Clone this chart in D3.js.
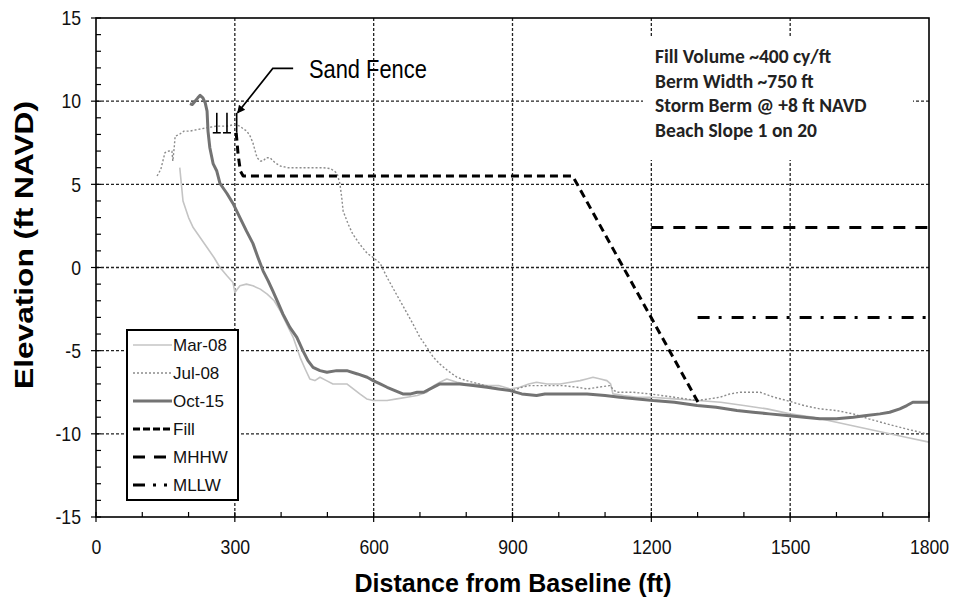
<!DOCTYPE html>
<html><head><meta charset="utf-8">
<script src="https://d3js.org/d3.v7.min.js"></script>
<style>body{margin:0;background:#fff}svg{display:block}</style>
</head><body>
<svg id="c" width="957" height="600"></svg>
<script>
// ---- data ----
const mar08X = [181,188,200,210,225,240,255,268,283,296,300,311,325,339,355,370,385,398,412,426,441,452,462,473,484,498,512,527,542,556,570,585,599,614,629,650,672,694,715,730,743,758,780,800,820,845,870,895,916,935,952,975,1003,1025,1046,1060,1074,1090,1104,1112,1117,1140,1170,1200,1250,1300,1350,1400,1450,1500,1550,1600,1650,1700,1750,1800];
const mar08Y = [6.0,4.0,3.0,2.4,1.8,1.2,0.6,0.0,-0.5,-0.9,-1.5,-1.1,-1.0,-1.1,-1.3,-1.6,-2.0,-2.6,-3.4,-4.2,-5.4,-6.1,-6.7,-6.8,-6.6,-6.8,-7.0,-7.0,-7.0,-7.3,-7.6,-7.9,-8.0,-8.0,-8.0,-7.9,-7.8,-7.7,-7.5,-7.1,-6.9,-6.7,-6.9,-7.0,-7.0,-7.1,-7.1,-7.3,-7.2,-7.0,-6.9,-7.0,-7.0,-6.9,-6.8,-6.7,-6.6,-6.7,-6.8,-7.0,-7.6,-7.7,-7.8,-7.8,-7.9,-8.0,-8.1,-8.3,-8.5,-8.8,-9.0,-9.3,-9.6,-9.9,-10.2,-10.5];

const jul08X = [132,140,149,157,164,166,169,171,180,190,203,220,240,260,283,300,311,320,326,333,339,348,355,361,368,376,387,398,415,434,450,469,490,506,515,521,527,531,534,545,555,570,586,599,614,629,643,657,671,685,700,715,729,743,760,780,800,815,840,870,901,920,938,970,1010,1040,1061,1085,1110,1120,1126,1160,1197,1250,1299,1325,1348,1370,1392,1415,1435,1465,1493,1530,1564,1600,1636,1670,1709,1750,1795];
const jul08Y = [5.5,5.9,6.9,7.0,7.0,6.4,7.2,7.9,8.0,8.2,8.2,8.3,8.4,8.5,8.5,8.6,8.5,8.3,8.2,7.9,7.5,6.6,6.4,6.4,6.6,6.6,6.3,6.1,6.0,6.0,6.0,6.0,6.0,5.95,5.8,5.65,5.05,4.2,3.4,2.6,2.0,1.4,0.85,0.6,0.25,-0.6,-1.3,-2.0,-2.7,-3.4,-4.2,-4.8,-5.4,-5.8,-6.2,-6.6,-6.8,-6.9,-7.1,-7.3,-7.4,-7.2,-7.1,-7.1,-7.1,-7.2,-7.3,-7.2,-7.1,-7.4,-7.5,-7.5,-7.6,-7.8,-8.0,-7.9,-7.8,-7.6,-7.5,-7.5,-7.5,-7.8,-8.0,-8.3,-8.5,-8.6,-8.8,-9.1,-9.4,-9.7,-10.0];

const oct15X = [203,208,214,220,225,231,236,240,242,246,253,261,268,283,296,311,325,339,350,361,372,382,393,404,419,434,447,458,469,484,499,520,542,565,586,599,614,629,646,663,680,694,708,722,743,760,786,815,845,870,895,920,952,970,988,1025,1061,1100,1132,1170,1204,1250,1299,1340,1385,1420,1455,1493,1530,1564,1600,1636,1665,1694,1715,1737,1752,1765,1780,1800];
const oct15Y = [9.85,9.8,10.0,10.2,10.35,10.2,9.9,9.4,8.2,7.2,6.25,5.8,5.05,4.45,3.85,3.0,2.2,1.45,0.6,-0.2,-0.8,-1.4,-2.1,-2.8,-3.6,-4.2,-5.0,-5.6,-6.0,-6.2,-6.3,-6.2,-6.2,-6.4,-6.6,-6.8,-7.0,-7.2,-7.4,-7.6,-7.6,-7.5,-7.5,-7.3,-7.0,-7.0,-7.0,-7.1,-7.2,-7.3,-7.4,-7.6,-7.7,-7.6,-7.6,-7.6,-7.6,-7.7,-7.8,-7.9,-8.0,-8.1,-8.3,-8.4,-8.6,-8.7,-8.8,-8.9,-9.0,-9.1,-9.1,-9.0,-8.9,-8.8,-8.7,-8.5,-8.3,-8.1,-8.1,-8.1];

const fillX = [303,307,312,318,1030,1305];
const fillY = [8.1,6.8,5.8,5.5,5.5,-8.3];
const mhhwX = [1200,1800], mhhwY = [2.4,2.4];
const mllwX = [1300,1800], mllwY = [-3.0,-3.0];

const fenceX = [261,283,304];
const fenceTop = 9.3, fenceBottom = 8.1;

const xTicks = [0,300,600,900,1200,1500,1800];
const yTicks = [-15,-10,-5,0,5,10,15];
const notes = ["Fill Volume ~400 cy/ft","Berm Width ~750 ft","Storm Berm @ +8 ft NAVD","Beach Slope 1 on 20"];
const legendNames = ["Mar-08","Jul-08","Oct-15","Fill","MHHW","MLLW"];

// ---- layout ----
const svg = d3.select("#c");
const L=96, T=18, R=929, B=517;
const x = d3.scaleLinear().domain([0,1800]).range([L,R]);
const y = d3.scaleLinear().domain([-15,15]).range([B,T]);
const baseFont = "'Liberation Sans',Arial,sans-serif";
// emulate a narrow face by compressing glyphs
function narrow(sel, k){ sel.each(function(){ const w=this.getComputedTextLength(); d3.select(this).attr("textLength",w*k).attr("lengthAdjust","spacingAndGlyphs"); }); }

// gridlines
const grid = svg.append("g").attr("stroke","#222").attr("stroke-width",1.3).attr("stroke-dasharray","3,2");
xTicks.slice(1,-1).forEach(v=>grid.append("line").attr("x1",x(v)).attr("x2",x(v)).attr("y1",T).attr("y2",B));
yTicks.slice(1,-1).forEach(v=>grid.append("line").attr("y1",y(v)).attr("y2",y(v)).attr("x1",L).attr("x2",R));

// white box behind notes
svg.append("rect").attr("x",643).attr("y",38).attr("width",270).attr("height",122).attr("fill","#fff");

const line = d3.line().x(d=>x(d[0])).y(d=>y(d[1]));
const zip = (a,b)=>a.map((v,i)=>[v,b[i]]);

const series = [
  {name:"Mar-08", d:zip(mar08X,mar08Y), stroke:"#c4c4c4", w:1.6, dash:null, ldash:null},
  {name:"Jul-08", d:zip(jul08X,jul08Y), stroke:"#8c8c8c", w:1.4, dash:"2,2", ldash:"2,2"},
  {name:"Oct-15", d:zip(oct15X,oct15Y), stroke:"#737373", w:3, dash:null, ldash:null},
  {name:"Fill", d:zip(fillX,fillY), stroke:"#000", w:3, dash:"8,5", ldash:"7,3"},
  {name:"MHHW", d:zip(mhhwX,mhhwY), stroke:"#000", w:3, dash:"12,10", ldash:"12,9"},
  {name:"MLLW", d:zip(mllwX,mllwY), stroke:"#000", w:3, dash:"12,9,3,10", ldash:"12,8,3,8,3,8"}
];
series.forEach(s=>{
  svg.append("path").attr("d",line(s.d)).attr("fill","none").attr("stroke",s.stroke)
    .attr("stroke-width",s.w).attr("stroke-dasharray",s.dash).attr("stroke-linejoin","round");
});

// sand fence markers
fenceX.forEach((fx,i)=>{
  svg.append("line").attr("x1",x(fx)).attr("x2",x(fx)).attr("y1",y(fenceTop)).attr("y2",y(fenceBottom)).attr("stroke","#000").attr("stroke-width",1.6);
  if(i<2) svg.append("line").attr("x1",x(fx)-4).attr("x2",x(fx)+4).attr("y1",y(fenceBottom)).attr("y2",y(fenceBottom)).attr("stroke","#000").attr("stroke-width",1.6);
});

// Sand Fence annotation
const annot = [[426,11.97],[382,11.97],[306,9.3]];
svg.append("defs").append("marker").attr("id","ah").attr("viewBox","0 0 10 10").attr("refX",9).attr("refY",5)
  .attr("markerWidth",13).attr("markerHeight",8).attr("markerUnits","userSpaceOnUse").attr("orient","auto")
  .append("path").attr("d","M0,0L10,5L0,10z").attr("fill","#000");
svg.append("path").attr("d",line(annot)).attr("fill","none").attr("stroke","#000").attr("stroke-width",1.6).attr("marker-end","url(#ah)");
svg.append("text").attr("x",x(460)).attr("y",y(11.4)).attr("text-anchor","start").attr("font-family",baseFont)
  .attr("font-size",25).attr("textLength",118).attr("lengthAdjust","spacingAndGlyphs").text("Sand Fence");

// notes
const nt = svg.append("g").attr("font-family","Carlito,Lato,'Open Sans',sans-serif").attr("font-weight","bold").attr("font-size",19.5).attr("fill","#222");
notes.forEach((t,i)=>nt.append("text").attr("x",655).attr("y",63+i*24.7).text(t));

// frame
svg.append("rect").attr("x",L).attr("y",T).attr("width",R-L).attr("height",B-T).attr("fill","none").attr("stroke","#000").attr("stroke-width",1.6);

// ticks
const tk = svg.append("g").attr("stroke","#000").attr("stroke-width",1.2);
d3.range(-15,16,1).forEach(v=>tk.append("line").attr("x1",L).attr("x2",L+5).attr("y1",y(v)).attr("y2",y(v)));
d3.range(0,1801,100).forEach(v=>tk.append("line").attr("x1",x(v)).attr("x2",x(v)).attr("y1",B).attr("y2",B-5));
yTicks.forEach(v=>tk.append("line").attr("x1",L-5).attr("x2",L).attr("y1",y(v)).attr("y2",y(v)));
xTicks.forEach(v=>tk.append("line").attr("x1",x(v)).attr("x2",x(v)).attr("y1",B).attr("y2",B+5));

// tick labels via d3 axes
const fmt = d=>String(d);
const yAxis = svg.append("g").attr("transform",`translate(${L},0)`).call(d3.axisLeft(y).tickValues(yTicks).tickFormat(fmt).tickSize(0).tickPadding(15));
const xAxis = svg.append("g").attr("transform",`translate(0,${B})`).call(d3.axisBottom(x).tickValues(xTicks).tickFormat(fmt).tickSize(0).tickPadding(22));
[yAxis,xAxis].forEach(a=>{a.select(".domain").remove();a.selectAll("text").attr("font-family",baseFont).attr("font-size",21).attr("fill","#111");narrow(a.selectAll("text"),0.84);});

// axis titles
svg.append("text").attr("transform","translate(33,245) rotate(-90)").attr("text-anchor","middle")
  .attr("font-family",baseFont).attr("font-weight","bold").attr("font-size",25)
  .attr("textLength",288).attr("lengthAdjust","spacingAndGlyphs").text("Elevation (ft NAVD)");
svg.append("text").attr("x",513).attr("y",592).attr("text-anchor","middle")
  .attr("font-family",baseFont).attr("font-weight","bold").attr("font-size",25)
  .attr("textLength",317).attr("lengthAdjust","spacingAndGlyphs").text("Distance from Baseline (ft)");

// legend
const lg = svg.append("g");
lg.append("rect").attr("x",127).attr("y",330).attr("width",111).attr("height",170).attr("fill","#fff").attr("stroke","#000").attr("stroke-width",2);
const ly = [345,373,401,429,457,485];
series.forEach((s,i)=>{
  lg.append("line").attr("x1",133).attr("x2",172).attr("y1",ly[i]).attr("y2",ly[i]).attr("stroke",s.stroke).attr("stroke-width",s.w)
    .attr("stroke-dasharray", s.ldash);
  lg.append("text").attr("x",173).attr("y",ly[i]+6).attr("font-family",baseFont).attr("font-size",17).attr("fill","#111").text(legendNames[i]);
});
</script>
</body></html>
